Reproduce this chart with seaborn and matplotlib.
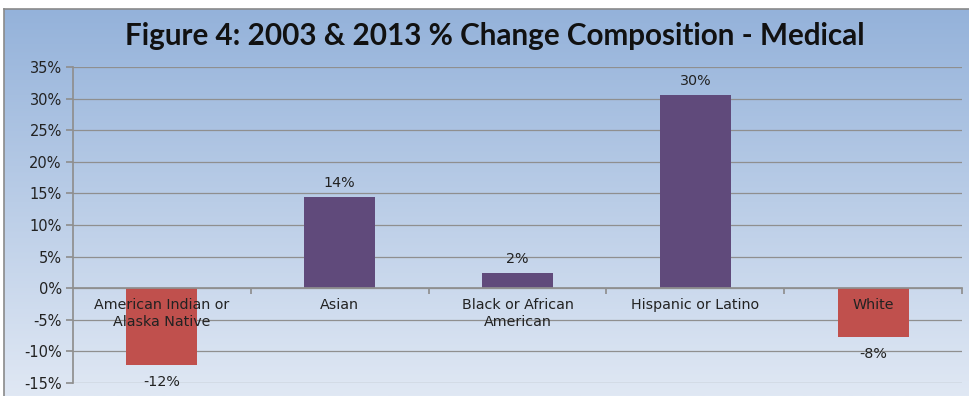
import numpy as np
import pandas as pd
import matplotlib
matplotlib.use("Agg")
import matplotlib.pyplot as plt
from matplotlib.ticker import FuncFormatter, FixedLocator
import seaborn as sns

categories = ["American Indian or\nAlaska Native", "Asian", "Black or African\nAmerican",
              "Hispanic or Latino", "White"]
values = [-12.2, 14.4, 2.4, 30.5, -7.8]
value_labels = ["-12%", "14%", "2%", "30%", "-8%"]
y_ticks = [-15, -10, -5, 0, 5, 10, 15, 20, 25, 30, 35]
title = "Figure 4: 2003 & 2013 % Change Composition - Medical"

POS = "#604a7b"
NEG = "#c0504d"

sns.set_theme(style="white")
plt.rcParams["font.family"] = ["DejaVu Sans"]

df = pd.DataFrame({"cat": categories, "val": values})
df["sign"] = np.where(df["val"] >= 0, "pos", "neg")

fig = plt.figure(figsize=(9.69, 3.96), dpi=100)
fig.patch.set_facecolor("white")

# gradient background
bg = fig.add_axes([0.004, 0.0, 0.996, 0.978], zorder=0)
top = np.array([148, 178, 218]) / 255
bot = np.array([224, 232, 244]) / 255
t = np.linspace(0, 1, 256)[:, None]
grad = top[None, :] * (1 - t) + bot[None, :] * t
bg.imshow(grad[:, None, :], aspect="auto", extent=[0, 1, 0, 1])
bg.set_xticks([]); bg.set_yticks([])
for s in bg.spines.values():
    s.set_color("#8a8a8a"); s.set_linewidth(1.2)
bg.spines["right"].set_visible(False)
bg.spines["bottom"].set_visible(False)

ax = fig.add_axes([0.0753, 0.033, 0.9175, 0.798], zorder=1)
ax.set_facecolor("none")
sns.barplot(data=df, x="cat", y="val", hue="sign",
            palette={"pos": POS, "neg": NEG}, width=0.4, dodge=False,
            legend=False, ax=ax, zorder=3, saturation=1, linewidth=0,
            edgecolor="none")

ax.set_ylim(-15, 35)
ax.set_xlim(-0.5, len(categories) - 0.5)
ax.yaxis.set_major_locator(FixedLocator(y_ticks))
ax.yaxis.set_major_formatter(FuncFormatter(lambda v, p: f"{v:.0f}%"))
ax.grid(axis="y", color="#8f8f8f", linewidth=0.9, zorder=0)
ax.set_axisbelow(True)

for s in ["top", "right"]:
    ax.spines[s].set_visible(False)
ax.spines["left"].set_color("#8f8f8f")
ax.spines["bottom"].set_color("#8f8f8f")
ax.spines["bottom"].set_position(("data", 0))
ax.spines["bottom"].set_zorder(4)

ax.tick_params(axis="y", which="both", left=True, length=5, color="#8f8f8f",
               labelsize=10.5, labelcolor="#222222", pad=3)
ax.set_xticks(np.arange(len(categories)) + 0.5, labels=[""] * len(categories))
ax.tick_params(axis="x", which="major", bottom=True, length=4, color="#8f8f8f")
ax.set_xlabel(""); ax.set_ylabel("")

for i, cat in enumerate(categories):
    ax.annotate(cat, (i, 0), xytext=(0, -7), textcoords="offset points",
                ha="center", va="top", fontsize=10.3, color="#222222",
                linespacing=1.25, zorder=6)

for i, (v, lab) in enumerate(zip(values, value_labels)):
    if v >= 0:
        ax.annotate(lab, (i, v), xytext=(0, 5), textcoords="offset points",
                    ha="center", va="bottom", fontsize=10.3, color="#222222")
    else:
        ax.annotate(lab, (i, v), xytext=(0, -7), textcoords="offset points",
                    ha="center", va="top", fontsize=10.3, color="#222222")

fig.text(0.511, 0.91, title, ha="center", va="center", fontsize=21.3,
         fontweight="bold", family=["Lato", "DejaVu Sans"], color="#111111")

fig.savefig("out.png", dpi=100)
